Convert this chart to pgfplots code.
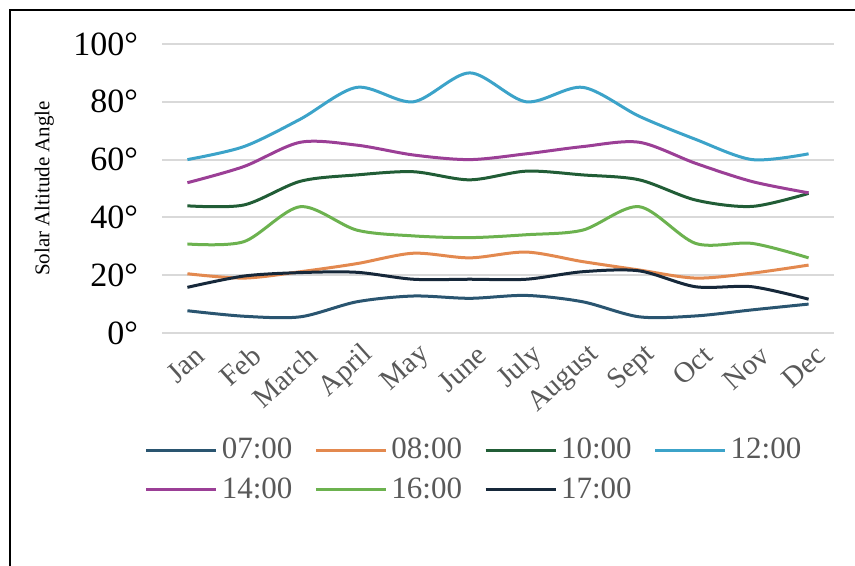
\documentclass[border=0pt]{standalone}
\usepackage{pgfplots}
\pgfplotsset{compat=1.18}
\usepackage{fontspec}
\setmainfont{Liberation Serif}
\definecolor{c07}{HTML}{2A5570}
\definecolor{c08}{HTML}{E3894F}
\definecolor{c10}{HTML}{215D36}
\definecolor{c12}{HTML}{3CA3C9}
\definecolor{c14}{HTML}{9B3F96}
\definecolor{c16}{HTML}{6CB24F}
\definecolor{c17}{HTML}{16283A}
\definecolor{gridc}{HTML}{D9D9D9}
\definecolor{txt}{HTML}{595959}
\begin{document}
\begin{tikzpicture}
\useasboundingbox (0,0) rectangle (427.5pt,283pt);
\draw[line width=1.2pt] (5pt,-2pt) -- (5pt,278pt) -- (430pt,278pt);
\begin{axis}[
  at={(81pt,116.5pt)}, anchor=south west,
  scale only axis, width=336pt, height=144.5pt,
  xmin=-0.45, xmax=11.45, ymin=0, ymax=100,
  axis line style={draw=none},
  major tick length=0pt,
  ytick={0,20,40,60,80,100},
  yticklabels={0°,20°,40°,60°,80°,100°},
  yticklabel style={font=\fontsize{17pt}{17pt}\selectfont, text=black, xshift=-8.5pt},
  ymajorgrids, grid style={gridc, line width=1pt},
  xtick={0,...,11},
  xticklabels={Jan,Feb,March,April,May,June,July,August,Sept,Oct,Nov,Dec},
  xticklabel style={rotate=42, anchor=east, font=\fontsize{14.5pt}{14.5pt}\selectfont, text=txt, yshift=-11pt, xshift=2pt},
  ylabel={Solar Altitude Angle},
  ylabel style={at={(rel axis cs:-0.175,0.5)}, anchor=center, font=\fontsize{10.5pt}{10.5pt}\selectfont},
  legend columns=4,
  legend cell align=left,
  legend style={draw=none, fill=none, at={(rel axis cs:-0.035,-0.335)}, anchor=north west,
    font=\fontsize{15.5pt}{15.5pt}\selectfont, text=txt,
    /tikz/every even column/.append style={column sep=9pt},
    row sep=4pt},
  legend image code/.code={\draw[#1] (0pt,0pt) -- (35pt,0pt);},
  every axis plot/.append style={smooth, line width=1.5pt, no marks},
]
\addplot[c07] coordinates {(0,7.7)(1,5.8)(2,5.6)(3,10.8)(4,12.8)(5,12)(6,13)(7,10.8)(8,5.6)(9,5.9)(10,8)(11,10)};
\addlegendentry{07:00}
\addplot[c08] coordinates {(0,20.5)(1,19)(2,21.2)(3,24)(4,27.6)(5,26)(6,28)(7,24.7)(8,21.8)(9,19)(10,20.7)(11,23.5)};
\addlegendentry{08:00}
\addplot[c10] coordinates {(0,44)(1,44.3)(2,52.5)(3,54.7)(4,55.8)(5,53)(6,56)(7,54.7)(8,53)(9,46)(10,43.8)(11,48.3)};
\addlegendentry{10:00}
\addplot[c12] coordinates {(0,60)(1,64.5)(2,74)(3,85)(4,80)(5,90)(6,80)(7,85)(8,75)(9,67)(10,60)(11,62)};
\addlegendentry{12:00}
\addplot[c14] coordinates {(0,52)(1,57.6)(2,66)(3,65)(4,61.6)(5,60)(6,62)(7,64.5)(8,66)(9,58.7)(10,52.4)(11,48.5)};
\addlegendentry{14:00}
\addplot[c16] coordinates {(0,30.8)(1,31.6)(2,43.7)(3,35.6)(4,33.6)(5,33)(6,34)(7,35.6)(8,43.7)(9,31)(10,31)(11,26)};
\addlegendentry{16:00}
\addplot[c17] coordinates {(0,15.8)(1,19.7)(2,20.9)(3,21)(4,18.6)(5,18.6)(6,18.6)(7,21.2)(8,21.5)(9,16)(10,16)(11,11.7)};
\addlegendentry{17:00}
\end{axis}
\end{tikzpicture}
\end{document}
